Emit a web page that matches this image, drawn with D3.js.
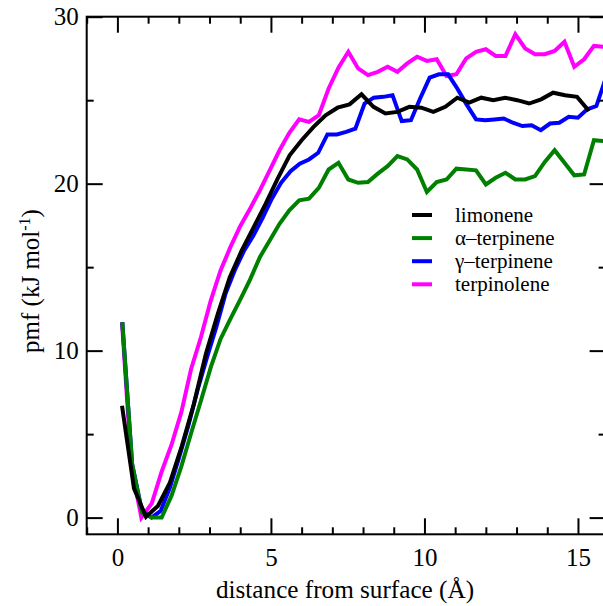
<!DOCTYPE html>
<html>
<head>
<meta charset="utf-8">
<script src="https://cdn.jsdelivr.net/npm/d3@7"></script>
<style>
  html, body { margin: 0; padding: 0; background: #fff; }
  svg { display: block; }
  text { font-family: "Liberation Serif", "Times New Roman", serif; fill: #000; }
</style>
</head>
<body>
<svg id="chart" width="603" height="606"></svg>
<script>
// ---- Data ----
const seriesNames = ["limonene", "α–terpinene", "γ–terpinene", "terpinolene"];

const xLimonene = [0.15,0.54,0.93,1.32,1.71,2.10,2.49,2.88,3.27,3.66,4.05,4.44,4.83,5.22,5.61,6.00,6.39,6.78,7.17,7.56,7.95,8.34,8.73,9.12,9.51,9.90,10.29,10.68,11.07,11.46,11.85,12.24,12.63,13.02,13.41,13.80,14.19,14.58,14.97,15.36];
const yLimonene = [6.7,1.75,0.05,0.7,2.1,4.3,6.8,9.8,12.2,14.4,16.0,17.4,18.8,20.3,21.7,22.6,23.4,24.1,24.55,24.75,25.35,24.6,24.2,24.3,24.6,24.55,24.3,24.6,25.15,24.85,25.15,25.0,25.15,25.0,24.8,25.05,25.45,25.3,25.2,24.35];

const xAlpha = [0.16,0.48,0.80,1.12,1.44,1.76,2.08,2.40,2.72,3.04,3.36,3.68,4.00,4.32,4.64,4.96,5.28,5.60,5.92,6.24,6.56,6.88,7.20,7.52,7.84,8.16,8.48,8.80,9.12,9.44,9.76,10.08,10.40,10.72,11.04,11.36,11.68,12.00,12.32,12.64,12.96,13.28,13.60,13.92,14.24,14.56,14.88,15.20,15.52,15.84];
const yAlpha = [11.7,3.2,0.3,0.0,0.0,1.3,3.05,5.05,7.0,9.0,10.7,11.9,13.05,14.25,15.6,16.6,17.6,18.4,19.0,19.1,19.75,20.85,21.25,20.25,20.05,20.1,20.6,21.05,21.65,21.45,20.85,19.5,20.1,20.25,20.9,20.85,20.8,19.95,20.35,20.65,20.25,20.25,20.45,21.3,22.0,21.25,20.5,20.55,22.6,22.55];

const xGamma = [0.16,0.48,0.80,1.11,1.41,1.71,2.01,2.31,2.62,2.92,3.22,3.52,3.82,4.13,4.43,4.73,5.03,5.33,5.64,5.94,6.24,6.54,6.84,7.15,7.45,7.75,8.05,8.35,8.66,8.96,9.26,9.56,9.86,10.17,10.47,10.77,11.07,11.37,11.68,11.98,12.28,12.58,12.88,13.19,13.49,13.79,14.09,14.39,14.70,15.00,15.30,15.60,15.90];
const yGamma = [11.7,3.2,0.4,0.0,0.4,1.8,3.6,5.5,7.7,9.6,11.4,13.4,14.8,16.0,16.9,17.95,19.1,20.05,20.75,21.2,21.45,21.85,22.95,22.95,23.1,23.3,24.8,25.15,25.2,25.3,23.75,23.8,25.1,26.35,26.55,26.55,25.7,24.75,23.85,23.8,23.85,23.9,23.65,23.45,23.5,23.2,23.6,23.65,24.0,23.95,24.45,24.65,26.3];

const xTerpinolene = [0.15,0.46,0.78,1.12,1.44,1.76,2.08,2.40,2.72,3.04,3.36,3.68,4.00,4.32,4.64,4.96,5.28,5.60,5.92,6.24,6.56,6.88,7.20,7.52,7.84,8.16,8.48,8.80,9.12,9.44,9.76,10.08,10.40,10.72,11.04,11.36,11.68,12.00,12.32,12.64,12.96,13.28,13.60,13.92,14.24,14.56,14.88,15.20,15.52,15.84];
const yTerpinolene = [11.7,3.0,0.0,0.85,2.75,4.35,6.3,8.9,10.8,13.0,14.8,16.2,17.45,18.5,19.6,20.8,22.0,23.05,23.85,23.7,24.1,25.7,26.95,27.9,26.9,26.5,26.7,27.0,26.7,27.2,27.6,27.35,27.45,26.45,26.55,27.5,27.9,28.05,27.65,27.65,28.95,28.1,27.75,27.75,27.95,28.5,27.0,27.45,28.25,28.2];

const xMajorTicks = [0, 5, 10, 15];
const xMinorTicks = [-1, 1, 2, 3, 4, 6, 7, 8, 9, 11, 12, 13, 14];
const yMajorTicks = [0, 10, 20, 30];
const yMinorTicks = [5, 15, 25];

const xTitle = "distance from surface (Å)";

// ---- Styles ----
const colors = { "limonene": "#000000", "α–terpinene": "#008000", "γ–terpinene": "#0000ff", "terpinolene": "#ff00ff" };

const series = [
  { name: seriesNames[0], xs: xLimonene, ys: yLimonene },
  { name: seriesNames[1], xs: xAlpha, ys: yAlpha },
  { name: seriesNames[2], xs: xGamma, ys: yGamma },
  { name: seriesNames[3], xs: xTerpinolene, ys: yTerpinolene }
];

// ---- Layout ----
const pLeft = 86.7, pRight = 605.6, pTop = 16.7, pBottom = 534.3;
const x = d3.scaleLinear().domain([-1, 15.9]).range([pLeft, pRight]);
const y = d3.scaleLinear().domain([-1, 30]).range([pBottom, pTop]);

const svg = d3.select("#chart");

svg.append("defs").append("clipPath").attr("id", "plotclip")
  .append("rect").attr("x", pLeft).attr("y", pTop).attr("width", pRight - pLeft).attr("height", pBottom - pTop);

const line = d3.line().x(d => x(d[0])).y(d => y(d[1]));

// draw in reverse legend order (limonene on top)
const plot = svg.append("g").attr("clip-path", "url(#plotclip)");
series.slice().reverse().forEach(s => {
  const pts = s.xs.map((xv, i) => [xv, s.ys[i]]);
  plot.append("path")
    .datum(pts)
    .attr("d", line)
    .attr("fill", "none")
    .attr("stroke", colors[s.name])
    .attr("stroke-width", 4)
    .attr("stroke-linejoin", "miter");
});

// ---- Axes ----
function styleAxis(g) {
  g.select(".domain").remove();
  g.selectAll(".tick line").attr("stroke", "#000").attr("stroke-width", 2);
  g.selectAll(".tick text").style("font-family", "'Liberation Serif', serif").style("font-size", "25px").attr("fill", "#000");
}

const MAJ = 16, MIN = 7;

svg.append("g").attr("transform", `translate(0,${pBottom})`)
  .call(d3.axisBottom(x).tickValues(xMajorTicks).tickSize(-MAJ).tickPadding(14).tickFormat(d3.format("d")))
  .call(styleAxis);
svg.append("g").attr("transform", `translate(0,${pBottom})`)
  .call(d3.axisBottom(x).tickValues(xMinorTicks).tickSize(-MIN).tickFormat(""))
  .call(styleAxis);
svg.append("g").attr("transform", `translate(0,${pTop})`)
  .call(d3.axisTop(x).tickValues(xMajorTicks).tickSize(-MAJ).tickFormat(""))
  .call(styleAxis);
svg.append("g").attr("transform", `translate(0,${pTop})`)
  .call(d3.axisTop(x).tickValues(xMinorTicks).tickSize(-MIN).tickFormat(""))
  .call(styleAxis);

svg.append("g").attr("transform", `translate(${pLeft},0)`)
  .call(d3.axisLeft(y).tickValues(yMajorTicks).tickSize(-MAJ).tickPadding(8).tickFormat(d3.format("d")))
  .call(styleAxis);
svg.append("g").attr("transform", `translate(${pLeft},0)`)
  .call(d3.axisLeft(y).tickValues(yMinorTicks).tickSize(-MIN).tickFormat(""))
  .call(styleAxis);
svg.append("g").attr("transform", `translate(${pRight},0)`)
  .call(d3.axisRight(y).tickValues(yMajorTicks).tickSize(-MAJ).tickFormat(""))
  .call(styleAxis);
svg.append("g").attr("transform", `translate(${pRight},0)`)
  .call(d3.axisRight(y).tickValues(yMinorTicks).tickSize(-MIN).tickFormat(""))
  .call(styleAxis);

// frame
svg.append("rect")
  .attr("x", pLeft).attr("y", pTop).attr("width", pRight - pLeft).attr("height", pBottom - pTop)
  .attr("fill", "none").attr("stroke", "#000").attr("stroke-width", 2);

// ---- Titles ----
svg.append("text")
  .attr("x", 345).attr("y", 598)
  .attr("text-anchor", "middle")
  .style("font-size", "25.2px")
  .text(xTitle);

const yt = svg.append("text")
  .attr("transform", "translate(39,281) rotate(-90)")
  .attr("text-anchor", "middle")
  .style("font-size", "25px");
yt.append("tspan").text("pmf (kJ mol");
yt.append("tspan").attr("dy", "-9").style("font-size", "16px").text("-1");
yt.append("tspan").attr("dy", "9").text(")");

// ---- Legend ----
const legend = svg.append("g");
series.forEach((s, i) => {
  const ly = 215 + i * 23.1;
  legend.append("line")
    .attr("x1", 412).attr("x2", 432).attr("y1", ly).attr("y2", ly)
    .attr("stroke", colors[s.name]).attr("stroke-width", 4);
  legend.append("text")
    .attr("x", 455).attr("y", ly + 6.5)
    .style("font-size", "21px")
    .text(s.name);
});
</script>
</body>
</html>
